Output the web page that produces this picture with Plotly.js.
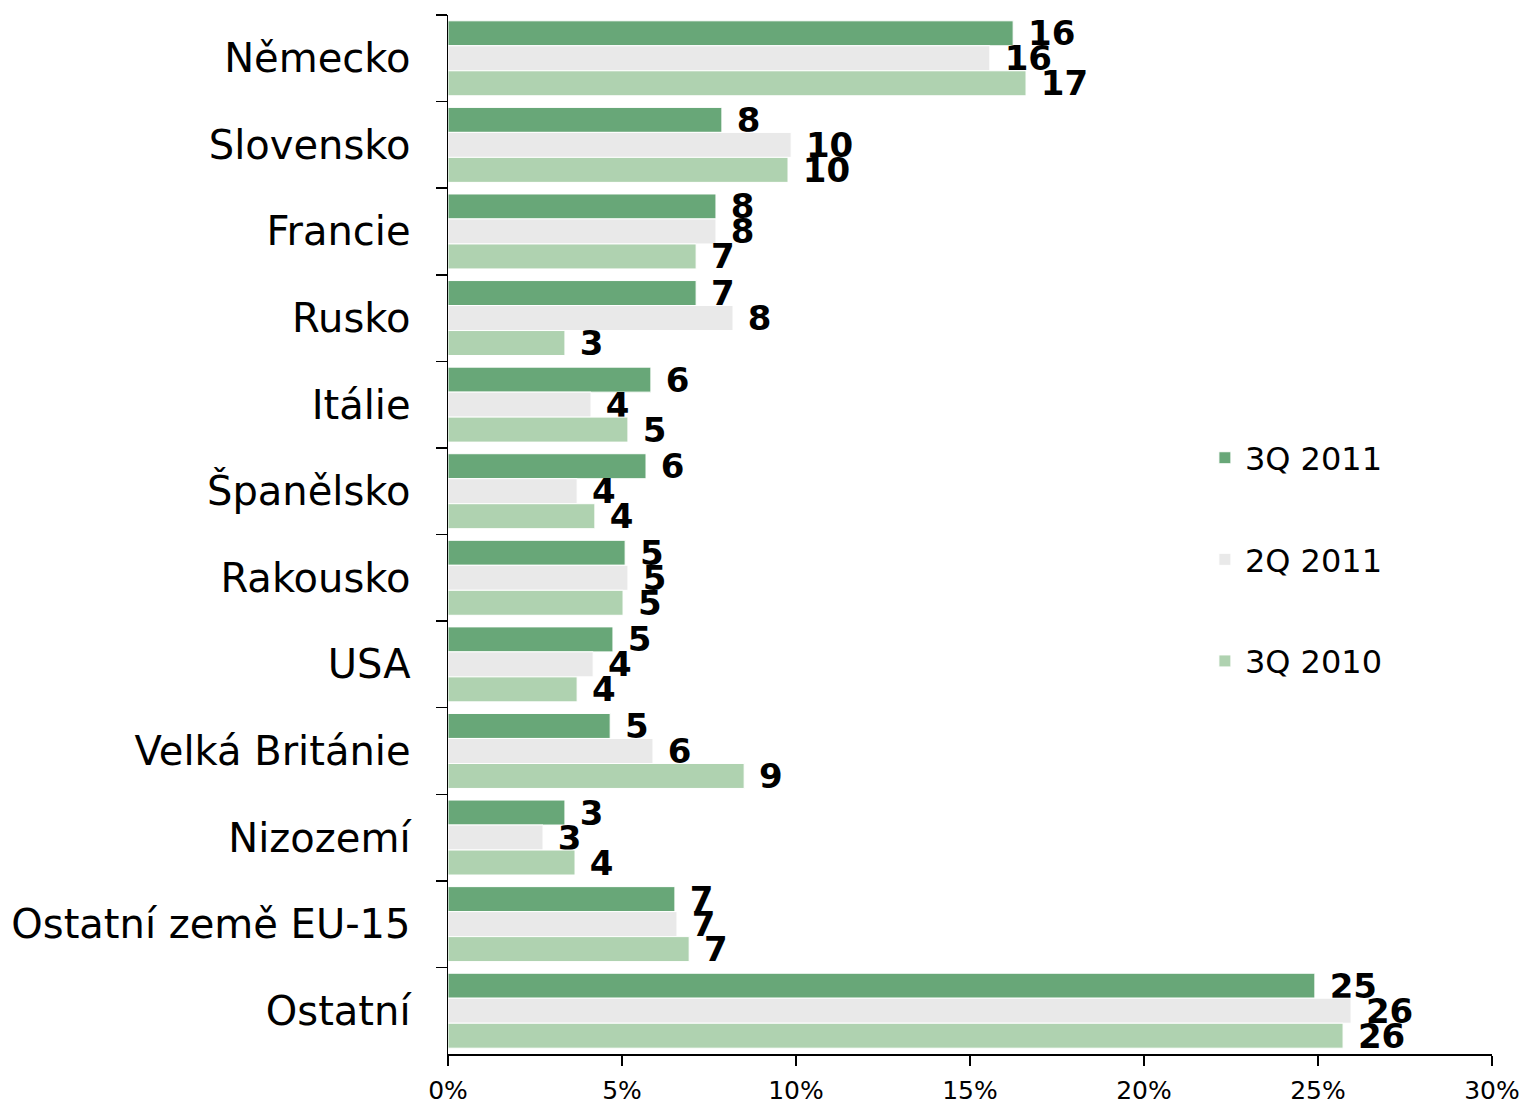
<!DOCTYPE html>
<html>
<head>
<meta charset="utf-8">
<script src="https://cdn.plot.ly/plotly-3.0.1.min.js"></script>
<style>
html,body{margin:0;padding:0;background:#fff;}
#chart{width:1526px;height:1104px;}
</style>
</head>
<body>
<div id="chart"></div>
<script>
const categories = ["Německo","Slovensko","Francie","Rusko","Itálie","Španělsko","Rakousko","USA","Velká Británie","Nizozemí","Ostatní země EU-15","Ostatní"];
const seriesNames = ["3Q 2011","2Q 2011","3Q 2010"];
const q3_2011 = [16.24, 7.87, 7.70, 7.13, 5.83, 5.69, 5.09, 4.74, 4.66, 3.36, 6.52, 24.91];
const q2_2011 = [15.57, 9.86, 7.70, 8.19, 4.11, 3.71, 5.17, 4.17, 5.89, 2.73, 6.58, 25.95];
const q3_2010 = [16.61, 9.77, 7.13, 3.36, 5.17, 4.22, 5.03, 3.71, 8.51, 3.65, 6.93, 25.72];
const xTickVals = [0,5,10,15,20,25,30];
const xTickText = ["0%","5%","10%","15%","20%","25%","30%"];
const colors = ["#68A778","#E9E9E9","#AFD2B0"];

const seriesValues = [q3_2011, q2_2011, q3_2010];
const traces = seriesValues.map((vals, i) => ({
  type: "bar",
  orientation: "h",
  name: seriesNames[i],
  legendgroup: "g" + i,
  x: vals,
  y: categories,
  text: vals.map(v => "\u00a0" + Math.round(v)),
  textposition: "outside",
  constraintext: "none",
  cliponaxis: false,
  textfont: {family: "DejaVu Sans", size: 34, color: "#000", weight: "bold"},
  marker: {color: colors[i], line: {color: "#ffffff", width: 1}},
  hoverinfo: "x+y+name"
}));

const layout = {
  width: 1526,
  height: 1104,
  margin: {l: 448, r: 34, t: 15, b: 50, pad: 0},
  paper_bgcolor: "#ffffff",
  plot_bgcolor: "#ffffff",
  font: {family: "DejaVu Sans", color: "#000"},
  barmode: "group",
  bargap: 0.134,
  bargroupgap: 0,
  showlegend: true,
  legend: {
    x: 0.725, xanchor: "left",
    y: 0.476, yanchor: "middle",
    traceorder: "grouped",
    tracegroupgap: 57,
    font: {family: "DejaVu Sans", size: 32, color: "#000"},
    bgcolor: "rgba(0,0,0,0)",
    borderwidth: 0
  },
  xaxis: {
    range: [0, 30],
    tickvals: xTickVals,
    ticktext: xTickText,
    ticks: "outside",
    ticklen: 10,
    tickwidth: 1.5,
    tickcolor: "#000",
    ticklabelstandoff: 3,
    showline: true,
    linecolor: "#000",
    linewidth: 1.5,
    showgrid: false,
    zeroline: false,
    tickfont: {family: "DejaVu Sans", size: 25, color: "#000"},
    fixedrange: true
  },
  yaxis: {
    type: "category",
    categoryorder: "array",
    categoryarray: categories,
    autorange: "reversed",
    ticks: "outside",
    tickson: "boundaries",
    ticklen: 11,
    tickwidth: 1.5,
    tickcolor: "#000",
    ticklabelstandoff: 28,
    showline: true,
    linecolor: "#000",
    linewidth: 1.5,
    showgrid: false,
    zeroline: false,
    tickfont: {family: "DejaVu Sans", size: 40, color: "#000"},
    fixedrange: true
  }
};

Plotly.newPlot("chart", traces, layout, {displayModeBar: false, staticPlot: true});
</script>
</body>
</html>
